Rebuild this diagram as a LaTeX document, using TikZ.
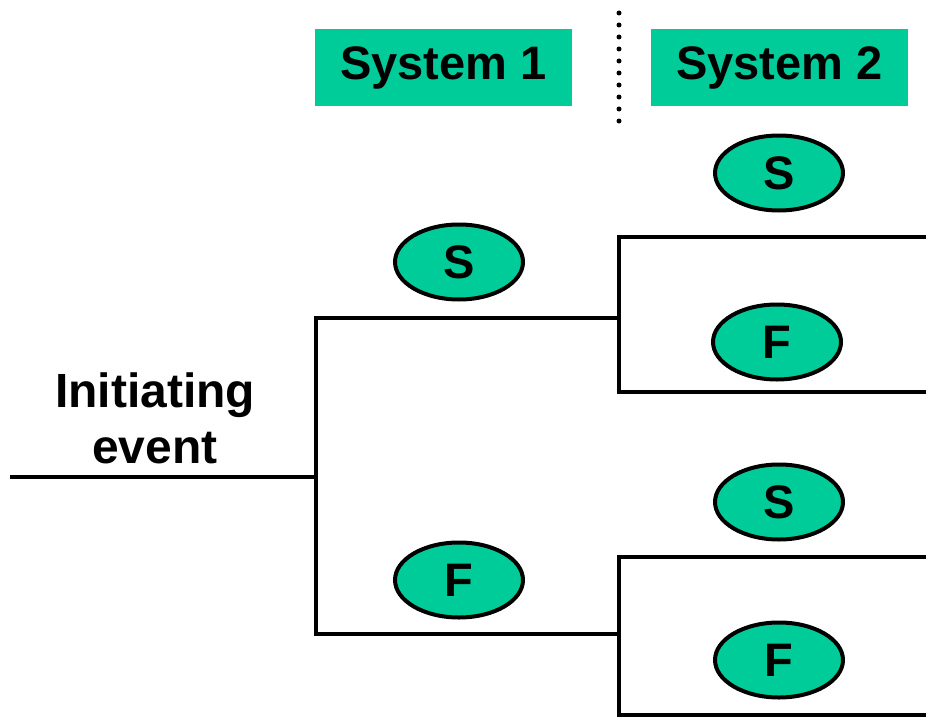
\documentclass[tikz,border=0pt]{standalone}
\usepackage{fontspec}
\setmainfont{Liberation Sans}
\usetikzlibrary{shapes.geometric}
\definecolor{teal1}{RGB}{0,204,153}
\tikzset{
  big/.style={font=\fontsize{47}{56}\selectfont\bfseries},
  bigger/.style={font=\fontsize{48}{56}\selectfont\bfseries},
  header/.style={big, fill=teal1, minimum width=257pt, minimum height=77pt, inner sep=0pt},
  outcome/.style={big, ellipse, draw=black, line width=4pt, fill=teal1, minimum width=128pt, minimum height=75pt, inner sep=0pt},
  branch/.style={line width=4pt, line join=miter, line cap=rect},
}
\begin{document}
\begin{tikzpicture}[x=1pt,y=-1pt]
\useasboundingbox (0,0) rectangle (926,717);
% headers
\node[header] (sys1) at (443.5,67.5) {System 1};
\node[header] (sys2) at (779.5,67.5) {System 2};
\coordinate (dtop) at (619,13);
\coordinate (dbot) at (619,121);
\draw[line width=5pt, line cap=round, dash pattern=on 0pt off 12pt] (dtop) -- (dbot);
% initiating event
\node[bigger, align=center, inner sep=0pt] (ie) at (155,418) {Initiating\\event};
% coordinates
\coordinate (ies) at (12,477);
\coordinate (r1) at (316,477);
\coordinate (r1t) at (316,318);
\coordinate (r1b) at (316,634);
\coordinate (u) at (619,318);
\coordinate (l) at (619,634);
\coordinate (ut) at (619,237);
\coordinate (ub) at (619,392);
\coordinate (ute) at (926,237);
\coordinate (ube) at (926,392);
\coordinate (lt) at (619,557);
\coordinate (lb) at (619,715);
\coordinate (lte) at (926,557);
\coordinate (lbe) at (926,715);
% tree
\draw[branch] (ies) -- (r1);
\draw[branch] (r1t) -- (r1b);
\draw[branch] (r1t) -- (u);
\draw[branch] (r1b) -- (l);
\draw[branch] (ute) -- (ut) -- (ub) -- (ube);
\draw[branch] (lte) -- (lt) -- (lb) -- (lbe);
% outcomes
\node[outcome] (s1) at (459,262) {S};
\node[outcome] (f1) at (459,580) {F};
\node[outcome] (s21) at (779,173) {S};
\node[outcome] (f21) at (777,342) {F};
\node[outcome] (s22) at (779,502) {S};
\node[outcome] (f22) at (779,660) {F};
\end{tikzpicture}
\end{document}
